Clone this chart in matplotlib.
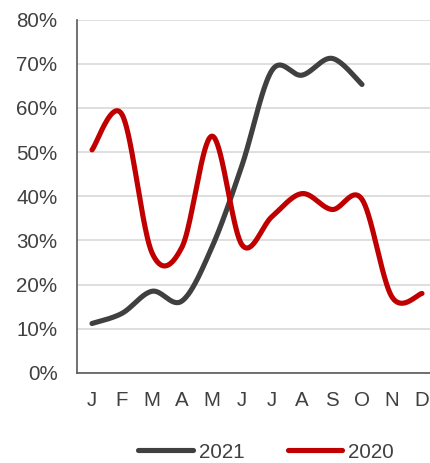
import numpy as np
import matplotlib
matplotlib.use("Agg")
import matplotlib.pyplot as plt
from matplotlib.ticker import PercentFormatter

months = ["J", "F", "M", "A", "M", "J", "J", "A", "S", "O", "N", "D"]
y2021 = [0.112, 0.135, 0.185, 0.163, 0.285, 0.47, 0.685, 0.674, 0.712, 0.653]
y2020 = [0.505, 0.585, 0.272, 0.285, 0.536, 0.29, 0.354, 0.406, 0.37, 0.393, 0.172, 0.18]
yticks = [0, 0.1, 0.2, 0.3, 0.4, 0.5, 0.6, 0.7, 0.8]


def smooth(ys, n=40):
    # Excel-style smoothed line: cubic Bezier through each point
    p = np.column_stack([np.arange(len(ys), dtype=float), ys])
    ext = np.vstack([p[0], p, p[-1]])
    out = []
    t = np.linspace(0, 1, n)[:, None]
    for i in range(len(p) - 1):
        p0, p3 = p[i], p[i + 1]
        c1 = p0 + (ext[i + 2] - ext[i]) / 6
        c2 = p3 - (ext[i + 3] - ext[i + 1]) / 6
        seg = (1 - t) ** 3 * p0 + 3 * (1 - t) ** 2 * t * c1 + 3 * (1 - t) * t ** 2 * c2 + t ** 3 * p3
        out.append(seg if i == 0 else seg[1:])
    out = np.vstack(out)
    return out[:, 0], out[:, 1]


plt.rcParams["font.family"] = ["Liberation Sans", "DejaVu Sans"]

W, H = 431, 463
fig = plt.figure(figsize=(W / 100, H / 100), dpi=100)
ax = fig.add_axes([77 / W, (H - 373) / H, 360 / W, (373 - 19.5) / H])

ax.plot(*smooth(y2021), color="#404040", lw=3.7, solid_capstyle="round", label="2021", zorder=3)
ax.plot(*smooth(y2020), color="#c00000", lw=3.7, solid_capstyle="round", label="2020", zorder=3)

ax.set_xlim(-0.5, 11.5)
ax.set_ylim(0, 0.8)
ax.set_yticks(yticks)
ax.yaxis.set_major_formatter(PercentFormatter(1.0, decimals=0))
ax.set_xticks(range(len(months)))
ax.set_xticklabels(months)
ax.grid(axis="y", color="#d9d9d9", lw=1.2)
ax.set_axisbelow(True)
ax.tick_params(length=0, labelsize=14.8, labelcolor="#404040")
ax.tick_params(axis="y", pad=14)
ax.tick_params(axis="x", pad=13)
for s in ["top", "right"]:
    ax.spines[s].set_visible(False)
for s in ["left", "bottom"]:
    ax.spines[s].set_color("#595959")
    ax.spines[s].set_linewidth(1.2)

fig.legend(loc="center", bbox_to_anchor=(266 / W, 1 - 452 / H), ncol=2, frameon=False,
           fontsize=14.8, labelcolor="#404040", handlelength=2.65, handletextpad=0.3,
           columnspacing=2.1)

fig.savefig("out.png", dpi=100)
